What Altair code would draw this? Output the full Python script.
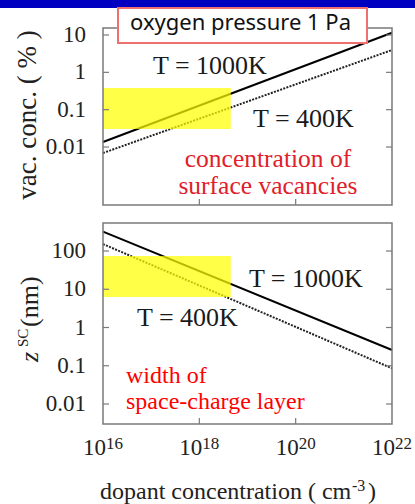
import altair as alt
import pandas as pd

# ---------------- data ----------------
dopant = [1e16, 1e22]                 # dopant concentration (cm^-3), line ends
vac_1000 = [0.0136, 11.5]             # vacancy conc. (%) at T = 1000 K
vac_400 = [0.0069, 3.96]              # vacancy conc. (%) at T = 400 K
z_1000 = [320, 0.258]                 # z_SC (nm) at T = 1000 K
z_400 = [152, 0.0857]                 # z_SC (nm) at T = 400 K

x_ticks = [1e16, 1e18, 1e20, 1e22]
x_exps = ["16", "18", "20", "22"]
x_inner_ticks = [1e18, 1e20]
top_yticks = [10, 1, 0.1, 0.01]
top_ylabels = ["10", "1", "0.1", "0.01"]
bot_yticks = [100, 10, 1, 0.1, 0.01]
bot_ylabels = ["100", "10", "1", "0.1", "0.01"]

x_domain = [1e16, 1e22]
top_domain = [0.00028, 15.4]
bot_domain = [0.0030, 540]

# highlighted (yellow) ranges
top_hl_x = [1e16, 4.5e18]
top_hl_y = [0.0303, 0.38]
bot_hl_x = [1e16, 4.5e18]
bot_hl_y = [6.3, 74]

# annotation anchors (data coordinates)
top_T_text = ["T = 1000K", "T = 400K"]
top_T_x = [1.09e17, 1.3e19]
top_T_y = [0.90, 0.0343]
top_red_lines = ["concentration of", "surface vacancies"]
top_red_x = 2.66e19
top_red_y = 0.00290

bot_T_text = ["T = 1000K", "T = 400K"]
bot_T_x = [1.07e19, 5.08e16]
bot_T_y = [11.5, 1.09]
bot_red_lines = ["width of", "space-charge layer"]
bot_red_x = 3.0e16
bot_red_y = 0.0354

# ---------------- layout ----------------
W, H1, H2 = 289, 177, 201
SERIF = "Liberation Serif"
FRAME = "#7a7a7a"

xs = alt.Scale(type="log", domain=x_domain, nice=False)
ys_top = alt.Scale(type="log", domain=top_domain, nice=False)
ys_bot = alt.Scale(type="log", domain=bot_domain, nice=False)
one = pd.DataFrame({"a": [0]})


def panel(ys, y1000, y400, hx, hy, yt, ylab, H, T_text, T_x, T_y, red_lines, red_x, red_y,
          red_color, red_size, red_lh, red_align):
    X = lambda f: alt.X(f, scale=xs, axis=None)
    Y = lambda f: alt.Y(f, scale=ys, axis=None)

    d1000 = pd.DataFrame({"x": dopant, "y": y1000})
    d400 = pd.DataFrame({"x": dopant, "y": y400})
    l1000 = alt.Chart(d1000).mark_line(color="black", strokeWidth=2).encode(x=X("x:Q"), y=Y("y:Q"))
    l400 = alt.Chart(d400).mark_line(color="#222222", strokeWidth=2, strokeDash=[2, 1.3]).encode(
        x=X("x:Q"), y=Y("y:Q"))

    hl = alt.Chart(pd.DataFrame({"x": [hx[0]], "x2": [hx[1]], "y": [hy[0]], "y2": [hy[1]]})).mark_rect(
        color="#ffff00", opacity=0.72).encode(x=X("x:Q"), x2="x2:Q", y=Y("y:Q"), y2="y2:Q")

    frame = alt.Chart(one).mark_rect(fillOpacity=0, stroke=FRAME, strokeWidth=1.5).encode(
        x=alt.value(0), x2=alt.value(W), y=alt.value(0), y2=alt.value(H))

    dyt = pd.DataFrame({"v": yt, "lab": ylab})
    lt = alt.Chart(dyt).mark_rule(color=FRAME, strokeWidth=1.2).encode(
        x=alt.value(0), x2=alt.value(6), y=Y("v:Q"))
    rt = alt.Chart(dyt).mark_rule(color=FRAME, strokeWidth=1.2).encode(
        x=alt.value(W - 6), x2=alt.value(W), y=Y("v:Q"))
    bt = alt.Chart(pd.DataFrame({"v": x_inner_ticks})).mark_rule(color=FRAME, strokeWidth=1.2).encode(
        x=X("v:Q"), y=alt.value(H), y2=alt.value(H - 6))
    ylabels = alt.Chart(dyt).mark_text(align="right", baseline="middle", font=SERIF, fontSize=23,
                                       color="#222222").encode(
        x=alt.value(-17), y=Y("v:Q"), text="lab:N")

    dT = pd.DataFrame({"x": T_x, "y": T_y, "t": T_text})
    tT = alt.Chart(dT).mark_text(align="left", baseline="alphabetic", font=SERIF, fontSize=26,
                                 color="#1a1a1a").encode(
        x=X("x:Q"), y=Y("y:Q"), text="t:N")
    dR = pd.DataFrame({"x": [red_x], "y": [red_y], "t": [red_lines]})
    tR = alt.Chart(dR).mark_text(align=red_align, baseline="alphabetic", font=SERIF, fontSize=red_size,
                                 lineHeight=red_lh, color=red_color).encode(
        x=X("x:Q"), y=Y("y:Q"), text="t")

    return [l1000, l400, hl, frame, lt, rt, bt, ylabels, tT, tR]


top_layers = panel(ys_top, vac_1000, vac_400, top_hl_x, top_hl_y, top_yticks, top_ylabels, H1,
                   top_T_text, top_T_x, top_T_y, top_red_lines, top_red_x, top_red_y,
                   "#e0202a", 25.5, 26.5, "center")

blue = alt.Chart(one).mark_rect(color="#0000c0").encode(
    x=alt.value(-103), x2=alt.value(312), y=alt.value(-28), y2=alt.value(-20))
box = alt.Chart(one).mark_rect(fill="white", stroke="#f07070", strokeWidth=2).encode(
    x=alt.value(15), x2=alt.value(264), y=alt.value(-20), y2=alt.value(15))
box_text = alt.Chart(one).mark_text(font="Noto Sans", fontSize=22, align="center", baseline="alphabetic",
                                    color="#111111").encode(
    x=alt.value(137.5), y=alt.value(2), text=alt.value("oxygen pressure 1 Pa"))
ytitle_top = alt.Chart(one).mark_text(angle=270, font=SERIF, fontSize=27, align="center",
                                      baseline="alphabetic", color="#222222").encode(
    x=alt.value(-67), y=alt.value(87), text=alt.value("vac. conc. ( % )"))

top = alt.layer(*top_layers, blue, box, box_text, ytitle_top).properties(width=W, height=H1)

bot_layers = panel(ys_bot, z_1000, z_400, bot_hl_x, bot_hl_y, bot_yticks, bot_ylabels, H2,
                   bot_T_text, bot_T_x, bot_T_y, bot_red_lines, bot_red_x, bot_red_y,
                   "#ff0000", 24, 25.5, "left")

X = lambda f: alt.X(f, scale=xs, axis=None)
dxt = pd.DataFrame({"v": x_ticks, "b": ["10"] * 4, "e": x_exps})
xbase = alt.Chart(dxt).mark_text(align="right", baseline="alphabetic", font=SERIF, fontSize=23, dx=3,
                                 color="#222222").encode(x=X("v:Q"), y=alt.value(232), text="b:N")
xexp = alt.Chart(dxt).mark_text(align="left", baseline="alphabetic", font=SERIF, fontSize=17, dx=3,
                                color="#222222").encode(x=X("v:Q"), y=alt.value(226), text="e:N")
xt1 = alt.Chart(one).mark_text(align="left", baseline="alphabetic", font=SERIF, fontSize=24,
                               color="#222222").encode(
    x=alt.value(-3), y=alt.value(276), text=alt.value("dopant concentration ( cm"))
xt2 = alt.Chart(one).mark_text(align="left", baseline="alphabetic", font=SERIF, fontSize=16,
                               color="#222222").encode(
    x=alt.value(249), y=alt.value(268), text=alt.value("-3"))
xt3 = alt.Chart(one).mark_text(align="left", baseline="alphabetic", font=SERIF, fontSize=24,
                               color="#222222").encode(
    x=alt.value(265), y=alt.value(276), text=alt.value(")"))

yz = alt.Chart(one).mark_text(angle=270, font=SERIF, fontSize=26, fontStyle="italic", align="left",
                              baseline="alphabetic", color="#222222").encode(
    x=alt.value(-65), y=alt.value(139), text=alt.value("z"))
ysc = alt.Chart(one).mark_text(angle=270, font=SERIF, fontSize=15, align="left", baseline="alphabetic",
                               color="#222222").encode(
    x=alt.value(-75), y=alt.value(124), text=alt.value("SC"))
ynm = alt.Chart(one).mark_text(angle=270, font=SERIF, fontSize=26, align="left", baseline="alphabetic",
                               color="#222222").encode(
    x=alt.value(-65), y=alt.value(104), text=alt.value("(nm)"))

bottom = alt.layer(*bot_layers, xbase, xexp, xt1, xt2, xt3, yz, ysc, ynm).properties(width=W, height=H2)

chart = alt.vconcat(top, bottom, spacing=18, bounds="flush").resolve_scale(
    x="independent", y="independent").properties(padding=0, background="white").configure_view(strokeWidth=0)

chart.save("out.html", embed_options={"renderer": "svg", "actions": False})
